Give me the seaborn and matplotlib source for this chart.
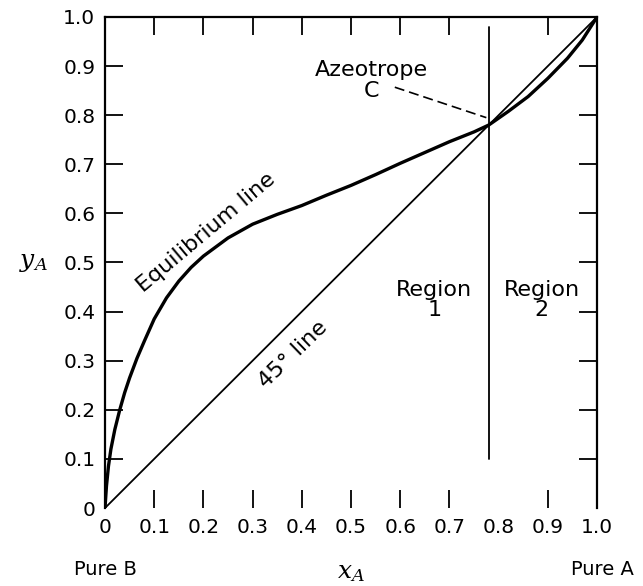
import matplotlib
matplotlib.use("Agg")
import matplotlib.pyplot as plt
import seaborn as sns
import pandas as pd

# Vapour–liquid equilibrium curve with a minimum-boiling azeotrope
x_eq = [0.0, 0.003, 0.007, 0.012, 0.02, 0.03, 0.04, 0.05, 0.065, 0.08, 0.10, 0.125,
        0.15, 0.175, 0.20, 0.25, 0.30, 0.35, 0.40, 0.45, 0.50, 0.55, 0.60, 0.65,
        0.70, 0.75, 0.78, 0.82, 0.86, 0.90, 0.94, 0.97, 1.0]
y_eq = [0.0, 0.045, 0.085, 0.12, 0.16, 0.20, 0.235, 0.265, 0.305, 0.34, 0.385, 0.428,
        0.462, 0.49, 0.513, 0.55, 0.578, 0.598, 0.616, 0.637, 0.657, 0.679, 0.702, 0.724,
        0.746, 0.766, 0.78, 0.808, 0.838, 0.875, 0.916, 0.953, 1.0]

# 45 degree reference line
x_diag = [0.0, 1.0]
y_diag = [0.0, 1.0]

# Azeotrope composition and the divider between the two regions
x_azeo = 0.78
y_azeo = 0.78
divider_y = [0.10, 0.98]

ticks = [0.0, 0.1, 0.2, 0.3, 0.4, 0.5, 0.6, 0.7, 0.8, 0.9, 1.0]
tick_labels = ["0", "0.1", "0.2", "0.3", "0.4", "0.5", "0.6", "0.7", "0.8", "0.9", "1.0"]

sns.set_style("ticks")
plt.rcParams["font.family"] = ["DejaVu Sans"]
plt.rcParams["mathtext.fontset"] = "dejavuserif"

fig = plt.figure(figsize=(6.43, 5.86), dpi=100)
ax = fig.add_axes([0.1633, 0.1331, 0.7652, 0.8379])

eq = pd.DataFrame({"x": x_eq, "y": y_eq})
diag = pd.DataFrame({"x": x_diag, "y": y_diag})
divider = pd.DataFrame({"x": [x_azeo, x_azeo], "y": divider_y})
sns.lineplot(data=eq, x="x", y="y", ax=ax, color="black", lw=2.4,
             sort=False, estimator=None)
sns.lineplot(data=diag, x="x", y="y", ax=ax, color="black", lw=1.3,
             sort=False, estimator=None)
sns.lineplot(data=divider, x="x", y="y", ax=ax, color="black", lw=1.3,
             sort=False, estimator=None)

ax.set_xlim(0, 1)
ax.set_ylim(0, 1)
ax.set_xlabel("")
ax.set_ylabel("")

for side in ["left", "top", "right"]:
    ax.spines[side].set_linewidth(1.6)
    ax.spines[side].set_color("black")
ax.spines["bottom"].set_visible(False)

ax.set_xticks(ticks)
ax.set_xticklabels(tick_labels)
ax.set_yticks(ticks)
ax.set_yticklabels(tick_labels)
ax.tick_params(axis="both", direction="in", length=13, width=1.3, color="black",
               top=True, right=True, labelsize=14.5, pad=7, labelcolor="black")

# No tick marks where they would sit on a spine or on the azeotrope divider
for t, v in zip(ax.xaxis.get_major_ticks(), ticks):
    if v in (0.0, 0.8, 1.0):
        t.tick1line.set_visible(False)
        t.tick2line.set_visible(False)
for t, v in zip(ax.yaxis.get_major_ticks(), ticks):
    if v in (0.0, 1.0):
        t.tick1line.set_visible(False)
        t.tick2line.set_visible(False)

txt = dict(color="black", fontsize=16, ha="center", va="center")
ax.text(0.205, 0.562, "Equilibrium line", rotation=40, **txt)
ax.text(0.383, 0.312, "45° line", rotation=44, **txt)
ax.text(0.669, 0.424, "Region\n1", linespacing=1.0, **txt)
ax.text(0.888, 0.424, "Region\n2", linespacing=1.0, **txt)
ax.text(0.541, 0.870, "Azeotrope\nC", linespacing=1.05, **txt)
ax.plot([0.589, x_azeo - 0.005], [0.857, y_azeo + 0.015], color="black",
        lw=1.2, ls=(0, (6, 3)))

ax.text(-0.146, 0.50, r"$y_A$", transform=ax.transAxes, fontsize=18,
        ha="center", va="center", color="black")
ax.text(0.5, -0.13, r"$x_A$", transform=ax.transAxes, fontsize=18,
        ha="center", va="center", color="black")
ax.text(0.0, -0.125, "Pure B", transform=ax.transAxes, fontsize=14,
        ha="center", va="center", color="black")
ax.text(1.01, -0.125, "Pure A", transform=ax.transAxes, fontsize=14,
        ha="center", va="center", color="black")

fig.savefig("out.png", dpi=100, facecolor="white")
